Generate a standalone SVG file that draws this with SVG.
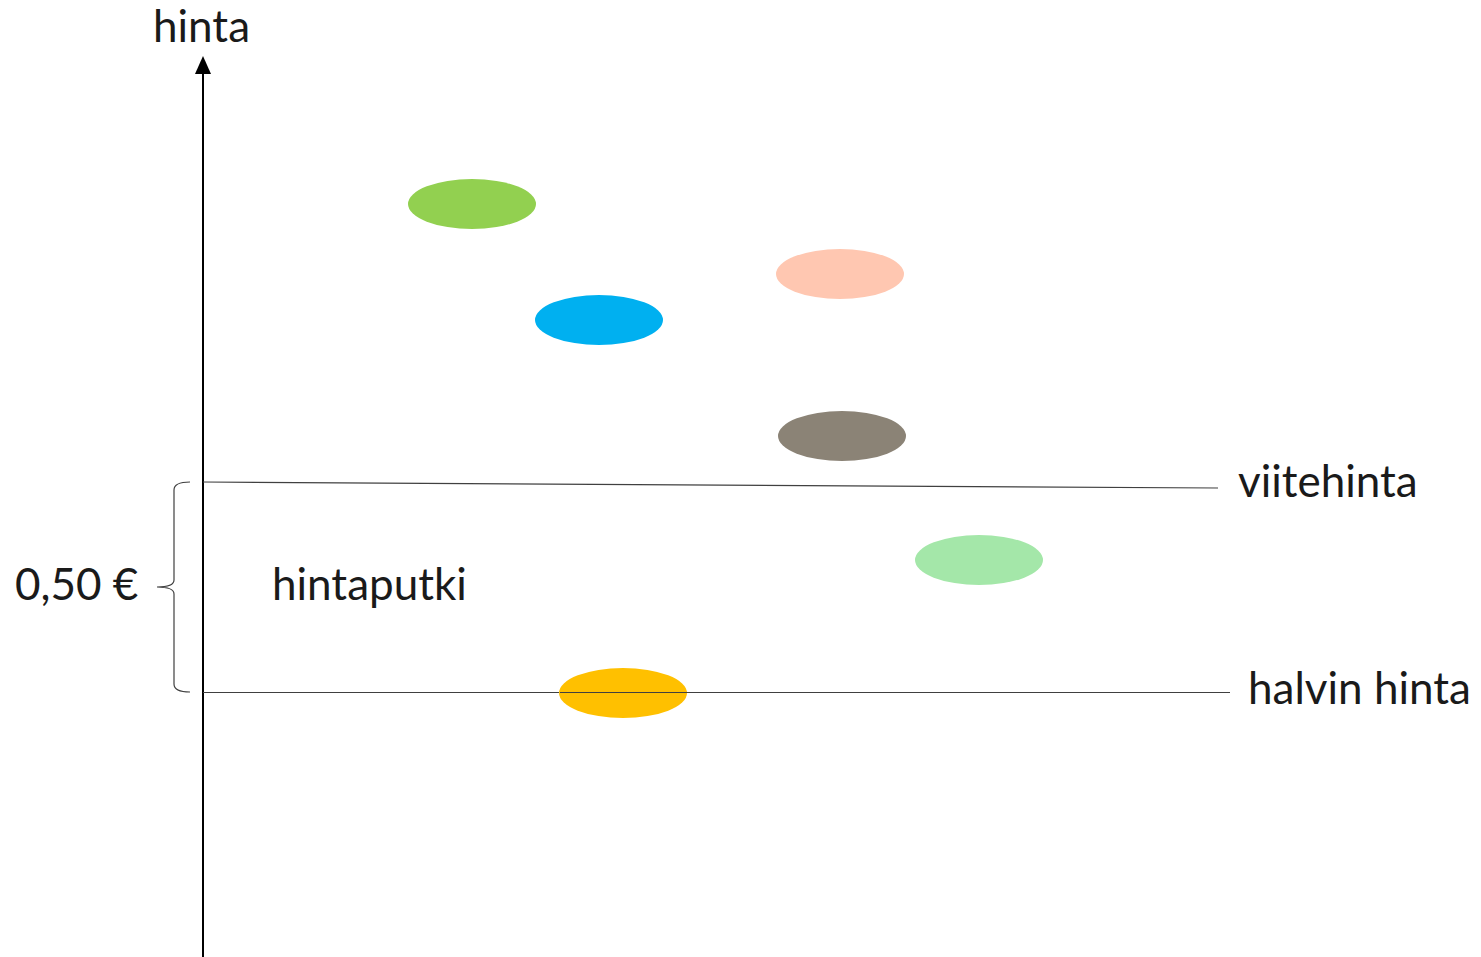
<svg xmlns="http://www.w3.org/2000/svg" width="1481" height="957" viewBox="0 0 1481 957">
<style>
.t{font-family:Lato,"Liberation Sans",sans-serif;font-size:44px;fill:#1a1a1a}
.g{stroke:#404040;stroke-width:1.2;fill:none}
</style>
<defs>
<marker id="ah" markerWidth="9" markerHeight="8" refX="1" refY="4" orient="auto" markerUnits="strokeWidth">
<path d="M0,0 L9,4 L0,8 z" fill="#000"/>
</marker>
</defs>
<rect width="1481" height="957" fill="#fff"/>
<g id="connectors">
<line x1="203" y1="957" x2="203" y2="72" stroke="#000" stroke-width="2" marker-end="url(#ah)"/>
<line class="g" x1="203" y1="482" x2="1218" y2="488"/>
<line class="g" x1="203" y1="692.5" x2="1230" y2="692.5"/>
<path class="g" d="M190,482 Q174,482 174,490 L174,580 Q174,587 157,587 Q174,587 174,594 L174,684 Q174,692 190,692"/>
</g>
<g id="n-green"><ellipse cx="472" cy="204" rx="64" ry="25" fill="#92D050"/></g>
<g id="n-peach"><ellipse cx="840" cy="274" rx="64" ry="25" fill="#FFC7B1"/></g>
<g id="n-blue"><ellipse cx="599" cy="320" rx="64" ry="25" fill="#00B0F0"/></g>
<g id="n-gray"><ellipse cx="842" cy="436" rx="64" ry="25" fill="#8B8376"/></g>
<g id="n-lightgreen"><ellipse cx="979" cy="560" rx="64" ry="25" fill="#A4E7A9"/></g>
<g id="n-orange"><ellipse cx="623" cy="693" rx="64" ry="25" fill="#FFC000"/></g>
<line class="g" x1="560" y1="692.5" x2="687" y2="692.5"/>
<text class="t" x="153" y="42">hinta</text>
<text class="t" x="15" y="600">0,50 €</text>
<text class="t" x="272" y="600">hintaputki</text>
<text class="t" x="1238" y="497">viitehinta</text>
<text class="t" x="1248" y="704">halvin hinta</text>
</svg>
